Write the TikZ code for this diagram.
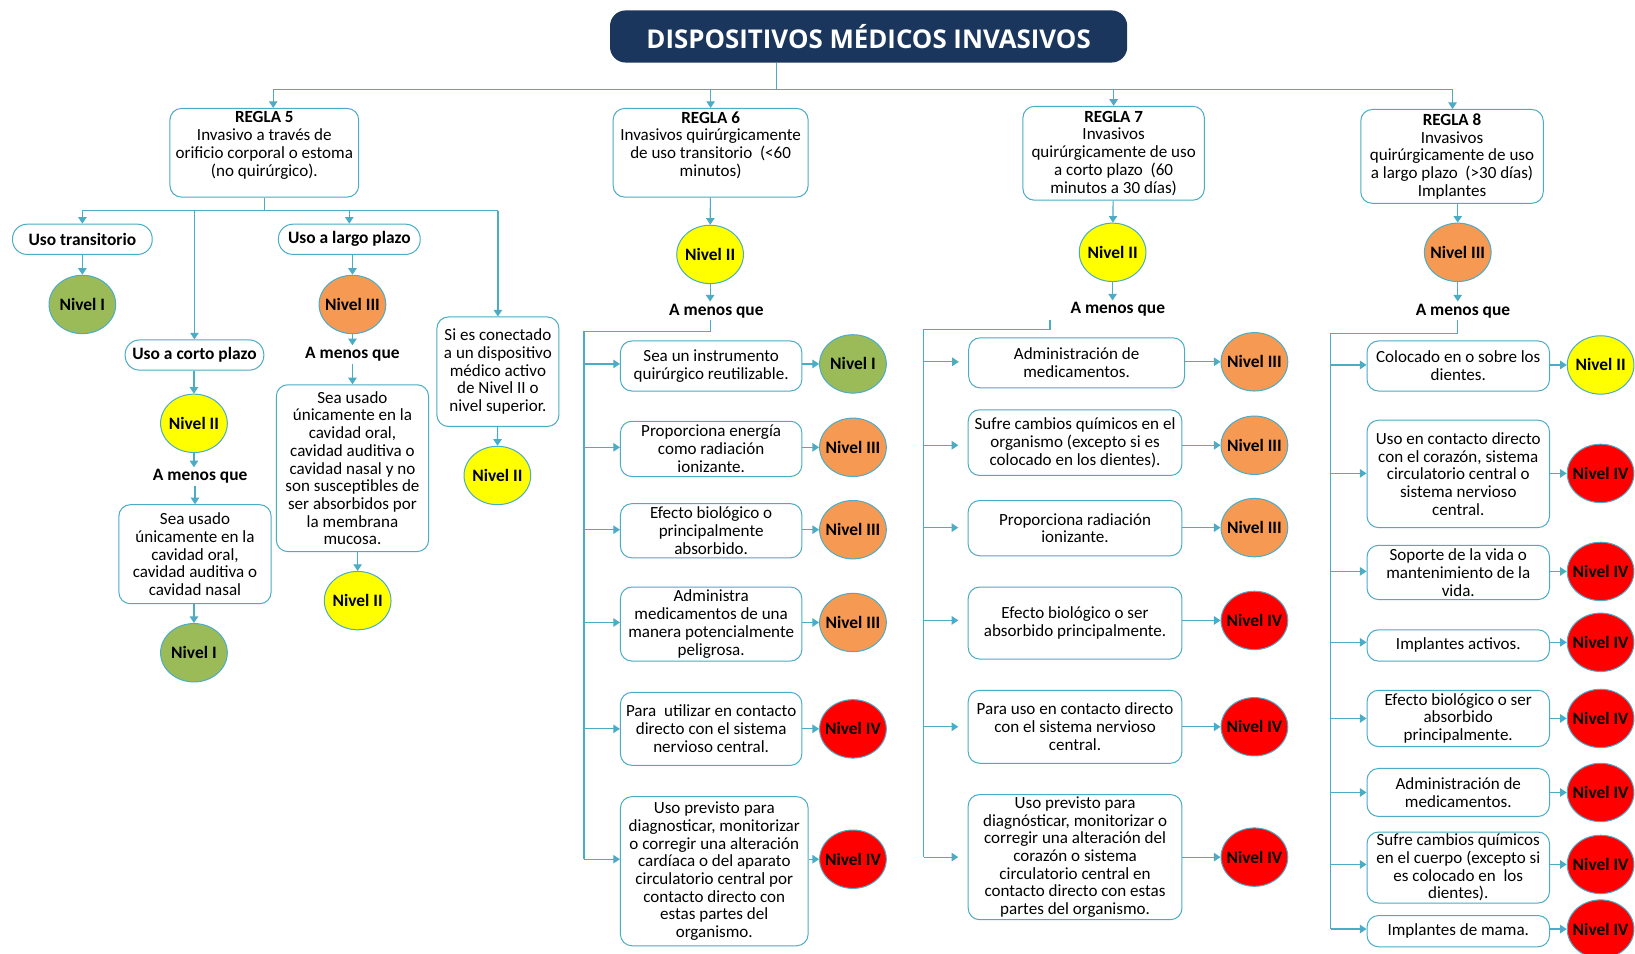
\documentclass[tikz,border=0pt]{standalone}
\usepackage{fontspec}
\setmainfont{Carlito}
\newfontfamily\titlefont{Open Sans}
\usetikzlibrary{shapes.geometric, arrows.meta}

\definecolor{azulTitulo}{RGB}{27,54,93}
\definecolor{azulLinea}{RGB}{75,172,198}
\definecolor{verdeNivel}{RGB}{155,187,89}
\definecolor{naranjaNivel}{RGB}{246,153,82}
\definecolor{amarilloNivel}{RGB}{255,255,0}
\definecolor{rojoNivel}{RGB}{255,0,0}

\newcommand{\nv}[1]{\makebox[0pt]{#1}}

\tikzset{
    texto/.style={font=\fontsize{9.3}{9.67}\selectfont},
    negrita/.style={font=\fontsize{9.5}{9.67}\selectfont\bfseries},
    linea/.style={draw=azulLinea, line width=0.65pt},
    flecha/.style={linea, -{Triangle[length=3.6pt, width=4.6pt]}},
    tam/.style 2 args={minimum width=#1*0.2mm, minimum height=#2*0.2mm},
    caja/.style={texto, draw=azulLinea, line width=0.55pt, rounded corners=2.2mm, fill=white, align=center, inner sep=1pt},
    uso/.style={caja, negrita, rounded corners=2.8mm},
    menos/.style={negrita, inner sep=1pt},
    titulo/.style={fill=azulTitulo, text=white, rounded corners=3mm, font=\titlefont\bfseries\fontsize{14.1}{16}\selectfont, minimum width=99.2mm, minimum height=10mm},
    nivel/.style={ellipse, draw=azulLinea, line width=0.55pt, negrita, inner sep=0pt, minimum width=12.8mm, minimum height=11.2mm},
    nI/.style={nivel, fill=verdeNivel},
    nII/.style={nivel, fill=amarilloNivel},
    nIII/.style={nivel, fill=naranjaNivel},
    nIV/.style={nivel, fill=rojoNivel},
}

\begin{document}
\begin{tikzpicture}[x=0.2mm, y=-0.2mm]
    \fill[white] (0,0) rectangle (1568,914);
    \useasboundingbox (0,0) rectangle (1568,914);

    \node[titulo] (titulo) at (833,35) {DISPOSITIVOS MÉDICOS INVASIVOS};

    % reglas
    \node[caja, tam={181}{85}] (r5) at (253.5,146.5) {\textbf{REGLA 5}\\Invasivo a través de\\orificio corporal o estoma\\(no quirúrgico).\\\mbox{}};
    \node[caja, tam={187}{85}] (r6) at (681.5,146.5) {\textbf{REGLA 6}\\Invasivos quirúrgicamente\\de uso transitorio~~(<60\\minutos)\\\mbox{}};
    \node[caja, tam={174}{90}] (r7) at (1068,147) {\textbf{REGLA 7}\\Invasivos\\quirúrgicamente de uso\\a corto plazo~~(60\\minutos a 30 días)};
    \node[caja, tam={175}{90}] (r8) at (1392.5,150) {\textbf{REGLA 8}\\Invasivos\\quirúrgicamente de uso\\a largo plazo~~(>30 días)\\Implantes};

    \coordinate (t0) at (745,86);
    \coordinate (t5) at (262,86);
    \coordinate (t8) at (1393,86);
    \draw[linea] (titulo.south -| t0) -- (t0);
    \draw[linea] (t5) -- (t8);
    \draw[flecha] (t5) -- (t5 |- r5.north);
    \draw[flecha] (r6.north |- t0) -- (r6.north);
    \draw[flecha] (r7.north |- t0) -- (r7.north);
    \draw[flecha] (t8) -- (t8 |- r8.north);

    % regla 5
    \node[uso, tam={134}{29}] (ut) at (79,229.5) {Uso transitorio};
    \node[uso, tam={133}{29}] (uc) at (186.5,340.5) {Uso a corto plazo};
    \node[uso, tam={136}{29}] (ul) at (335,229.5) {Uso a largo plazo};
    \node[caja, tam={117}{105}] (sc) at (477.5,356.5) {Si es conectado\\a un dispositivo\\médico activo\\de Nivel II o\\nivel superior.};

    \node[nI] (n51) at (79,292) {\nv{Nivel I}};
    \node[nII] (n52) at (186,406) {\nv{Nivel II}};
    \node[menos] (am52) at (192,457) {A menos que};
    \node[caja, tam={146}{95}] (c52) at (187,531.5) {Sea usado\\únicamente en la\\cavidad oral,\\cavidad auditiva o\\cavidad nasal};
    \node[nI] (n53) at (186,626) {\nv{Nivel I}};
    \node[nIII] (n54) at (338,292) {\nv{Nivel III}};
    \node[menos] (am54) at (338,340) {A menos que};
    \node[caja, tam={146}{160}] (c54) at (338,449) {Sea usado\\únicamente en la\\cavidad oral,\\cavidad auditiva o\\cavidad nasal y no\\son susceptibles de\\ser absorbidos por\\la membrana\\mucosa.};
    \node[nII] (n55) at (343,576) {\nv{Nivel II}};
    \node[nII] (n56) at (477,456) {\nv{Nivel II}};

    \coordinate (b5) at (253,202);
    \draw[linea] (r5.south |- r5.south) -- (r5.south |- b5);
    \draw[linea] (ut.north |- b5) -- (sc.north |- b5);
    \foreach \n in {ut, uc, ul, sc}
        \draw[flecha] (\n.north |- b5) -- (\n.north);
    \draw[flecha] (ut) -- (n51);
    \draw[flecha] (uc.south -| n52) -- (n52);
    \draw[flecha] (n52.south) -- (n52.south |- am52.north);
    \draw[flecha] (c52.north |- am52.south) -- (c52.north);
    \draw[flecha] (c52.south -| n53) -- (n53);
    \draw[flecha] (ul.south -| n54) -- (n54);
    \draw[flecha] (n54) -- (am54);
    \draw[flecha] (am54) -- (c54);
    \draw[flecha] (c54.south -| n55) -- (n55);
    \draw[flecha] (sc) -- (n56);

    % regla 6
    \node[nII] (n6) at (681,244) {\nv{Nivel II}};
    \node[menos] (am6) at (687,298) {A menos que};
    \node[caja, tam={174}{48}] (c61) at (682,351) {Sea un instrumento\\quirúrgico reutilizable.};
    \node[caja, tam={174}{53}] (c62) at (682,430.5) {Proporciona energía\\como radiación\\ionizante.};
    \node[caja, tam={174}{52}] (c63) at (682,509) {Efecto biológico o\\principalmente\\absorbido.};
    \node[caja, tam={174}{71}] (c64) at (682,598.5) {Administra\\medicamentos de una\\manera potencialmente\\peligrosa.};
    \node[caja, tam={174}{70}] (c65) at (682,699) {Para~~utilizar en contacto\\directo con el sistema\\nervioso central.};
    \node[caja, tam={180}{143}] (c66) at (685,835.5) {Uso previsto para\\diagnosticar, monitorizar\\o corregir una alteración\\cardíaca o del aparato\\circulatorio central por\\contacto directo con\\estas partes del\\organismo.};
    \node[nI] (n61) at (818,349) {\nv{Nivel I}};
    \node[nIII] (n62) at (818,429) {\nv{Nivel III}};
    \node[nIII] (n63) at (818,508) {\nv{Nivel III}};
    \node[nIII] (n64) at (818,597) {\nv{Nivel III}};
    \node[nIV] (n65) at (818,699) {\nv{Nivel IV}};
    \node[nIV] (n66) at (818,824) {\nv{Nivel IV}};

    \coordinate (v6) at (560,318);
    \draw[flecha] (r6) -- (n6);
    \draw[flecha] (n6.south) -- (n6.south |- am6.north);
    \draw[linea] (n6.south |- am6.south) |- (v6) -- (v6 |- n66);
    \foreach \i in {1,...,6} {
        \draw[flecha] (v6 |- n6\i) -- (c6\i.west |- n6\i);
        \draw[flecha] (c6\i.east |- n6\i) -- (n6\i);
    }

    % regla 7
    \node[nII] (n7) at (1067,242) {\nv{Nivel II}};
    \node[menos] (am7) at (1072,297) {A menos que};
    \node[caja, tam={207}{48}] (c71) at (1032.5,348) {Administración de\\medicamentos.};
    \node[caja, tam={205}{63}] (c72) at (1031,424.5) {Sufre cambios químicos en el\\organismo (excepto si es\\colocado en los dientes).};
    \node[caja, tam={205}{53}] (c73) at (1031,506.5) {Proporciona radiación\\ionizante.};
    \node[caja, tam={205}{69}] (c74) at (1031,597.5) {Efecto biológico o ser\\absorbido principalmente.};
    \node[caja, tam={205}{70}] (c75) at (1031,697) {Para uso en contacto directo\\con el sistema nervioso\\central.};
    \node[caja, tam={205}{120}] (c76) at (1031,822) {Uso previsto para\\diagnósticar, monitorizar o\\corregir una alteración del\\corazón o sistema\\circulatorio central en\\contacto directo con estas\\partes del organismo.};
    \node[nIII] (n71) at (1203,347) {\nv{Nivel III}};
    \node[nIII] (n72) at (1203,427) {\nv{Nivel III}};
    \node[nIII] (n73) at (1203,506) {\nv{Nivel III}};
    \node[nIV] (n74) at (1203,595) {\nv{Nivel IV}};
    \node[nIV] (n75) at (1203,697) {\nv{Nivel IV}};
    \node[nIV] (n76) at (1203,822) {\nv{Nivel IV}};

    \coordinate (s7) at (1007,307);
    \coordinate (v7) at (886,316);
    \draw[flecha] (r7) -- (n7);
    \draw[flecha] (n7.south) -- (n7.south |- am7.north);
    \draw[linea] (s7) |- (v7) -- (v7 |- n76);
    \foreach \i in {1,...,6} {
        \draw[flecha, shorten >=1.8mm] (v7 |- n7\i) -- (c7\i.west |- n7\i);
        \draw[flecha] (c7\i.east |- n7\i) -- (n7\i);
    }

    % regla 8
    \node[nIII] (n8) at (1398,242) {\nv{Nivel III}};
    \node[menos] (am8) at (1403,298) {A menos que};
    \node[caja, tam={175}{48}] (c81) at (1398.5,351) {Colocado en o sobre los\\dientes.};
    \node[caja, tam={175}{103}] (c82) at (1398.5,454.5) {Uso en contacto directo\\con el corazón, sistema\\circulatorio central o\\sistema nervioso\\central.};
    \node[caja, tam={175}{52}] (c83) at (1398.5,549) {Soporte de la vida o\\mantenimiento de la\\vida.};
    \node[caja, tam={175}{30}] (c84) at (1398.5,619) {Implantes activos.};
    \node[caja, tam={175}{54}] (c85) at (1398.5,689) {Efecto biológico o ser\\absorbido\\principalmente.};
    \node[caja, tam={175}{46}] (c86) at (1398.5,760) {Administración de\\medicamentos.};
    \node[caja, tam={175}{62}] (c87) at (1398.5,832) {Sufre cambios químicos\\en el cuerpo (excepto si\\es colocado en~~los\\dientes).};
    \node[caja, tam={175}{30}] (c88) at (1398.5,893) {Implantes de mama.};
    \node[nII] (n81) at (1535,350) {\nv{Nivel II}};
    \node[nIV] (n82) at (1535,454) {\nv{Nivel IV}};
    \node[nIV] (n83) at (1535,548) {\nv{Nivel IV}};
    \node[nIV] (n84) at (1535,616) {\nv{Nivel IV}};
    \node[nIV] (n85) at (1535,689) {\nv{Nivel IV}};
    \node[nIV] (n86) at (1535,760) {\nv{Nivel IV}};
    \node[nIV] (n87) at (1535,829) {\nv{Nivel IV}};
    \node[nIV] (n88) at (1535,891) {\nv{Nivel IV}};

    \coordinate (v8) at (1276,320);
    \draw[flecha] (r8.south -| n8) -- (n8);
    \draw[flecha] (n8.south) -- (n8.south |- am8.north);
    \draw[linea] (n8.south |- am8.south) |- (v8) -- (v8 |- n88);
    \foreach \i in {1,...,8} {
        \draw[flecha] (v8 |- n8\i) -- (c8\i.west |- n8\i);
        \draw[flecha] (c8\i.east |- n8\i) -- (n8\i);
    }
\end{tikzpicture}
\end{document}
